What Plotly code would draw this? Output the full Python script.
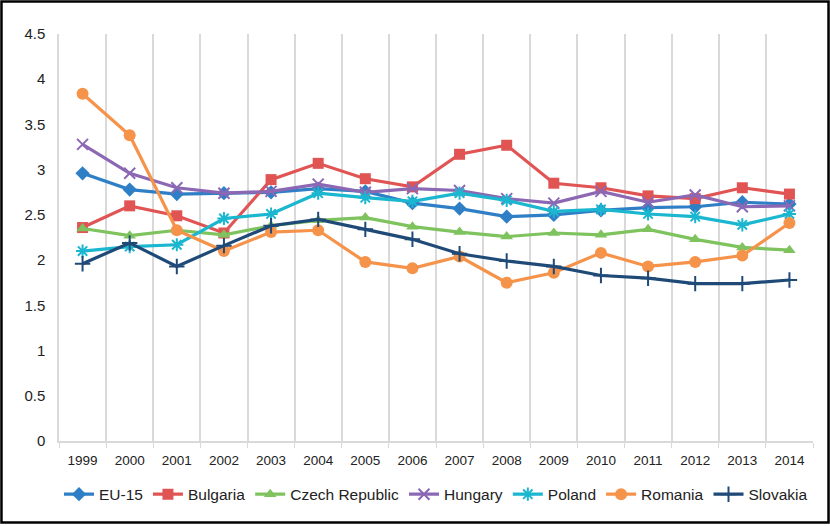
import plotly.graph_objects as go

years = [str(y) for y in range(1999, 2015)]

eu15 = [2.96, 2.78, 2.73, 2.74, 2.75, 2.79, 2.76, 2.63, 2.57, 2.48, 2.50, 2.55, 2.58, 2.59, 2.64, 2.62]
bulgaria = [2.36, 2.60, 2.49, 2.30, 2.89, 3.07, 2.90, 2.81, 3.17, 3.27, 2.85, 2.80, 2.71, 2.68, 2.80, 2.73]
czech = [2.35, 2.27, 2.33, 2.28, 2.38, 2.44, 2.47, 2.37, 2.31, 2.26, 2.30, 2.28, 2.34, 2.23, 2.14, 2.11]
hungary = [3.28, 2.96, 2.80, 2.74, 2.76, 2.84, 2.75, 2.79, 2.77, 2.68, 2.63, 2.76, 2.64, 2.72, 2.59, 2.60]
poland = [2.10, 2.15, 2.17, 2.46, 2.51, 2.74, 2.69, 2.65, 2.74, 2.66, 2.54, 2.56, 2.51, 2.48, 2.39, 2.51]
romania = [3.84, 3.38, 2.33, 2.10, 2.31, 2.33, 1.98, 1.91, 2.04, 1.75, 1.86, 2.08, 1.93, 1.98, 2.05, 2.41]
slovakia = [1.96, 2.19, 1.93, 2.16, 2.38, 2.45, 2.34, 2.23, 2.07, 1.99, 1.93, 1.83, 1.80, 1.74, 1.74, 1.78]

series = [
    ("EU-15", eu15, "#2F7FC6", "diamond", 11, 0),
    ("Bulgaria", bulgaria, "#E15454", "square", 11, 0),
    ("Czech Republic", czech, "#7EC35E", "triangle-up", 11, 0),
    ("Hungary", hungary, "#8C68B4", "x-thin-open", 11, 2),
    ("Poland", poland, "#1BB6CF", "asterisk-open", 11, 2),
    ("Romania", romania, "#F6934A", "circle", 12, 0),
    ("Slovakia", slovakia, "#1F4A78", "cross-thin-open", 11, 2),
]

fig = go.Figure()
for name, vals, color, sym, size, lw in series:
    marker = dict(symbol=sym, size=size, color=color)
    if lw:
        marker["line"] = dict(color=color, width=lw)
    fig.add_trace(go.Scatter(
        x=years, y=vals, name=name, mode="lines+markers",
        line=dict(color=color, width=3.2), marker=marker,
    ))

fig.update_layout(
    width=830, height=526,
    margin=dict(l=59, r=17, t=34, b=85, autoexpand=False),
    paper_bgcolor="white", plot_bgcolor="white",
    font=dict(family="Liberation Sans, Arial, sans-serif", color="#222222"),
    showlegend=True,
    legend=dict(orientation="h", x=0.5, xanchor="center", y=-0.09, yanchor="top",
                font=dict(size=15.5), itemwidth=30, tracegroupgap=0),
    xaxis=dict(type="category", tickson="boundaries", showgrid=True,
               gridcolor="#D9D9D9", gridwidth=1.5, showline=True,
               linecolor="#D9D9D9", linewidth=1.5, ticks="outside",
               tickcolor="#D9D9D9", ticklen=5, tickfont=dict(size=13.5),
               ticklabelstandoff=6, range=[-0.5, 15.5]),
    yaxis=dict(range=[0, 4.5], dtick=0.5, showgrid=False, showline=True,
               linecolor="#D9D9D9", linewidth=1.5, zeroline=False,
               tickfont=dict(size=15), ticks="", tickformat="~g",
               ticklabelstandoff=9),
)

fig.add_shape(type="rect", xref="paper", yref="paper",
              x0=-0.0763, x1=1.0206, y0=-0.2002, y1=1.0799,
              line=dict(color="black", width=2.5), fillcolor="rgba(0,0,0,0)")

fig.write_html("out.html", config={"displayModeBar": False},
               post_script="document.body.style.margin='0';document.body.style.padding='0';")
